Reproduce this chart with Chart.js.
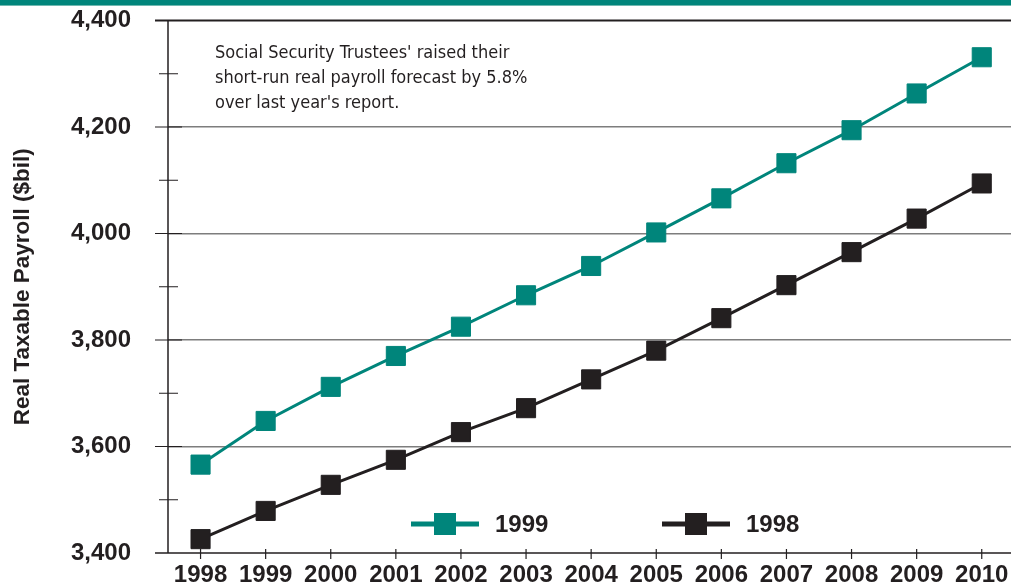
<!DOCTYPE html>
<html>
<head>
<meta charset="utf-8">
<title>Real Taxable Payroll</title>
<script src="https://cdn.jsdelivr.net/npm/chart.js@4.4.1/dist/chart.umd.min.js"></script>
<style>
    html, body {
        margin: 0;
        padding: 0;
        background: #fff;
        overflow: hidden;
    }
    .frame {
        position: relative;
        width: 1011px;
        height: 586px;
        overflow: hidden;
    }
    .banner {
        position: absolute;
        left: 0;
        top: 0;
        width: 100%;
        height: 5px;
        background: #00857b;
        border-bottom: 1px solid #6fb8b0;
    }
    .note {
        position: absolute;
        left: 215px;
        top: 39px;
        font-family: "DejaVu Sans Condensed", "Liberation Sans", sans-serif;
        font-size: 18px;
        line-height: 25px;
        color: #231f20;
        white-space: nowrap;
    }
    #payrollChart {
        position: absolute;
        left: 0;
        top: 0;
    }
</style>
</head>
<body>
<div class="frame">
    <canvas id="payrollChart" width="1040" height="586"></canvas>
    <div class="banner"></div>
    <div class="note">Social Security Trustees' raised their<br>short-run real payroll forecast by 5.8%<br>over last year's report.</div>
</div>

<script>
// Real taxable payroll forecasts, $ billions
const years = [1998, 1999, 2000, 2001, 2002, 2003, 2004, 2005, 2006, 2007, 2008, 2009, 2010];
const report1999 = [3566, 3648, 3712, 3770, 3825, 3884, 3939, 4002, 4066, 4132, 4194, 4263, 4331];
const report1998 = [3426, 3479, 3528, 3575, 3627, 3672, 3726, 3780, 3841, 3903, 3965, 4028, 4094];
const seriesLabels = ['1999', '1998'];
const yLabelValues = [3400, 3600, 3800, 4000, 4200, 4400];

const TEAL = '#00857b';
const INK = '#231f20';
const LABEL_FONT = '"Liberation Sans", Arial, sans-serif';

const toPoints = (values) => values.map((v, i) => ({ x: years[i], y: v }));

// axis lines and tick marks that cross the axes
const axisMarks = {
    id: 'axisMarks',
    beforeDatasetsDraw(chart) {
        const { ctx, chartArea: a, scales } = chart;
        const yScale = scales.y;
        const xScale = scales.x;
        ctx.save();
        ctx.strokeStyle = INK;

        // top rule at the axis maximum
        ctx.lineWidth = 2;
        ctx.beginPath();
        ctx.moveTo(a.left - 13, yScale.getPixelForValue(4400));
        ctx.lineTo(a.right, yScale.getPixelForValue(4400));
        ctx.stroke();

        ctx.lineWidth = 1.5;
        ctx.beginPath();
        ctx.moveTo(a.left, a.top);
        ctx.lineTo(a.left, a.bottom);
        ctx.moveTo(a.left - 13, a.bottom);
        ctx.lineTo(a.right, a.bottom);
        ctx.stroke();

        ctx.lineWidth = 1.2;
        ctx.beginPath();
        for (let v = 3500; v < 4400; v += 100) {
            const y = yScale.getPixelForValue(v);
            const major = yLabelValues.includes(v);
            ctx.moveTo(a.left - (major ? 13 : 9), y);
            ctx.lineTo(a.left + (major ? 14 : 10), y);
        }
        years.forEach(yr => {
            const x = xScale.getPixelForValue(yr);
            ctx.moveTo(x, a.bottom - 4);
            ctx.lineTo(x, a.bottom + 6);
        });
        ctx.stroke();
        ctx.restore();
    }
};

// line-and-square legend inside the plot, near the bottom
const insideLegend = {
    id: 'insideLegend',
    afterDraw(chart) {
        const { ctx, chartArea: a } = chart;
        const offsets = [243, 494];
        const y = a.bottom - 29;
        ctx.save();
        chart.data.datasets.forEach((ds, i) => {
            const x0 = a.left + offsets[i];
            ctx.strokeStyle = ds.borderColor;
            ctx.lineWidth = 5;
            ctx.beginPath();
            ctx.moveTo(x0, y);
            ctx.lineTo(x0 + 68, y);
            ctx.stroke();
            ctx.fillStyle = ds.backgroundColor;
            ctx.fillRect(x0 + 23, y - 11, 22, 22);
            ctx.fillStyle = INK;
            ctx.font = 'bold 24px ' + LABEL_FONT;
            ctx.textBaseline = 'middle';
            ctx.textAlign = 'left';
            ctx.fillText(ds.label, x0 + 84, y + 1);
        });
        ctx.restore();
    }
};

const ctx = document.getElementById('payrollChart').getContext('2d');
new Chart(ctx, {
    type: 'line',
    data: {
        datasets: [
            {
                label: seriesLabels[0],
                data: toPoints(report1999),
                borderColor: TEAL,
                backgroundColor: TEAL,
                borderWidth: 3,
                pointStyle: 'rect',
                pointRadius: 13.5,
                pointBorderWidth: 1,
                pointBorderColor: TEAL,
                tension: 0
            },
            {
                label: seriesLabels[1],
                data: toPoints(report1998),
                borderColor: INK,
                backgroundColor: INK,
                borderWidth: 3,
                pointStyle: 'rect',
                pointRadius: 13.5,
                pointBorderWidth: 1,
                pointBorderColor: INK,
                tension: 0
            }
        ]
    },
    options: {
        responsive: false,
        animation: false,
        events: [],
        layout: {
            padding: { top: 20.5, right: 25.7, left: 0, bottom: 0 }
        },
        plugins: {
            legend: { display: false },
            tooltip: { enabled: false }
        },
        scales: {
            x: {
                type: 'linear',
                min: 1997.5,
                max: 2010.5,
                afterBuildTicks: (scale) => {
                    scale.ticks = years.map(v => ({ value: v }));
                },
                afterFit: (scale) => {
                    scale.height = 33;
                    scale.paddingLeft = 0;
                    scale.paddingRight = 0;
                },
                border: { display: false },
                grid: { display: false, drawTicks: false },
                ticks: {
                    autoSkip: false,
                    maxRotation: 0,
                    padding: 8,
                    color: INK,
                    font: { family: LABEL_FONT, size: 24, weight: 'bold' },
                    callback: (v) => String(v)
                }
            },
            y: {
                min: 3400,
                max: 4400,
                afterBuildTicks: (scale) => {
                    scale.ticks = yLabelValues.map(v => ({ value: v }));
                },
                afterFit: (scale) => {
                    scale.width = 168;
                    scale.paddingTop = 0;
                    scale.paddingBottom = 0;
                },
                border: { display: false },
                grid: {
                    drawTicks: false,
                    lineWidth: 1.4,
                    color: (c) => (c.tick && c.tick.value > 3400 && c.tick.value < 4400) ? '#7d7d7d' : 'rgba(0,0,0,0)'
                },
                ticks: {
                    padding: 37,
                    color: INK,
                    font: { family: LABEL_FONT, size: 24, weight: 'bold' },
                    callback: (v) => v.toLocaleString('en-US')
                },
                title: {
                    display: true,
                    text: 'Real Taxable Payroll ($bil)',
                    color: INK,
                    font: { family: LABEL_FONT, size: 22.5, weight: 'bold' },
                    padding: { top: 9, bottom: 0 }
                }
            }
        }
    },
    plugins: [axisMarks, insideLegend]
});
</script>
</body>
</html>
